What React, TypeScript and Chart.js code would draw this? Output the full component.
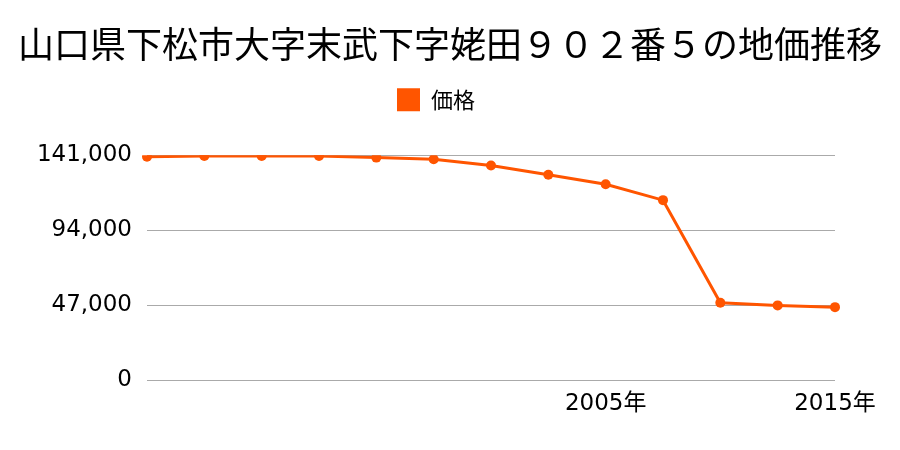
import React, { useEffect, useRef } from "react";
import { Chart, registerables } from "chart.js";

Chart.register(...registerables);

const titleText = "山口県下松市大字末武下字姥田９０２番５の地価推移";
const seriesName = "価格";
const xLabels = ["", "", "", "", "", "", "", "", "2005年", "", "", "", "2015年"];
const prices = [140000, 140500, 140500, 140500, 139500, 138500, 134500, 128700, 122800, 112800, 48400, 46800, 45700];
const yTicks = [0, 47000, 94000, 141000];

const FONT = "'Noto Sans CJK JP', 'Noto Sans', sans-serif";
const NUMFONT = "'DejaVu Sans', 'Noto Sans CJK JP', sans-serif";
const ORANGE = "rgb(255, 85, 0)";

const legendSpacer = {
  id: "legendSpacer",
  beforeInit(chart: any) {
    const lg = chart.legend;
    if (lg && !lg.__patched) {
      const orig = lg.fit;
      lg.fit = function (this: any) {
        orig.call(this);
        this.height += 34;
      };
      lg.__patched = true;
    }
  },
  afterLayout(chart: any) {
    const lg = chart.legend;
    if (lg) {
      lg.left -= 14;
      lg.right -= 14;
    }
  },
};

export default function App() {
  const ref = useRef<HTMLCanvasElement | null>(null);
  useEffect(() => {
    if (!ref.current) return;
    const chart = new Chart(ref.current, {
      type: "line",
      data: {
        labels: xLabels,
        datasets: [
          {
            label: seriesName,
            data: prices,
            borderColor: ORANGE,
            backgroundColor: ORANGE,
            borderWidth: 3,
            pointRadius: 5,
            pointBackgroundColor: ORANGE,
            pointBorderColor: ORANGE,
            pointBorderWidth: 0,
            tension: 0,
            yAxisID: "y",
          },
        ],
      },
      plugins: [legendSpacer],
      options: {
        animation: false,
        responsive: false,
        maintainAspectRatio: false,
        layout: { padding: { top: 0, right: 0, left: 0, bottom: 0 } },
        plugins: {
          title: {
            display: true,
            text: titleText,
            color: "#000",
            font: { family: FONT, size: 36, weight: "normal" },
            padding: { top: 23, bottom: 12 },
          },
          legend: {
            display: true,
            labels: {
              color: "#000",
              font: { family: FONT, size: 22 },
              boxWidth: 23,
              boxHeight: 23,
              padding: 10,
              generateLabels: () => [
                {
                  text: seriesName,
                  fillStyle: ORANGE,
                  strokeStyle: ORANGE,
                  lineWidth: 0,
                  datasetIndex: 0,
                  hidden: false,
                },
              ],
            },
          },
          tooltip: { enabled: false },
        },
        scales: {
          x: {
            offset: false,
            grid: { display: false, drawTicks: false },
            border: { display: false },
            ticks: {
              color: "#000",
              font: { family: NUMFONT, size: 23 },
              maxRotation: 0,
              autoSkip: false,
              padding: 10,
            },
            afterFit: (s: any) => {
              s.height = 70;
            },
          },
          y: {
            min: 0,
            max: 141000,
            afterBuildTicks: (s: any) => {
              s.ticks = yTicks.map((v) => ({ value: v }));
            },
            grid: { color: "#aaaaaa", drawTicks: false, lineWidth: 1 },
            border: { display: false },
            ticks: {
              color: "#000",
              font: { family: NUMFONT, size: 23 },
              padding: 15,
              callback: (v: any) => Number(v).toLocaleString("en-US"),
            },
            afterFit: (s: any) => {
              s.width = 147;
            },
          },
          yRight: {
            position: "right",
            display: true,
            grid: { display: false, drawTicks: false },
            border: { display: false },
            ticks: { display: false },
            afterFit: (s: any) => {
              s.width = 65;
            },
          },
        },
      },
    });
    return () => chart.destroy();
  }, []);
  return (
    <div style={{ position: "fixed", left: 0, top: 0, width: 900, height: 450, background: "#fff" }}>
      <canvas ref={ref} width={900} height={450} style={{ width: 900, height: 450 }} />
    </div>
  );
}
